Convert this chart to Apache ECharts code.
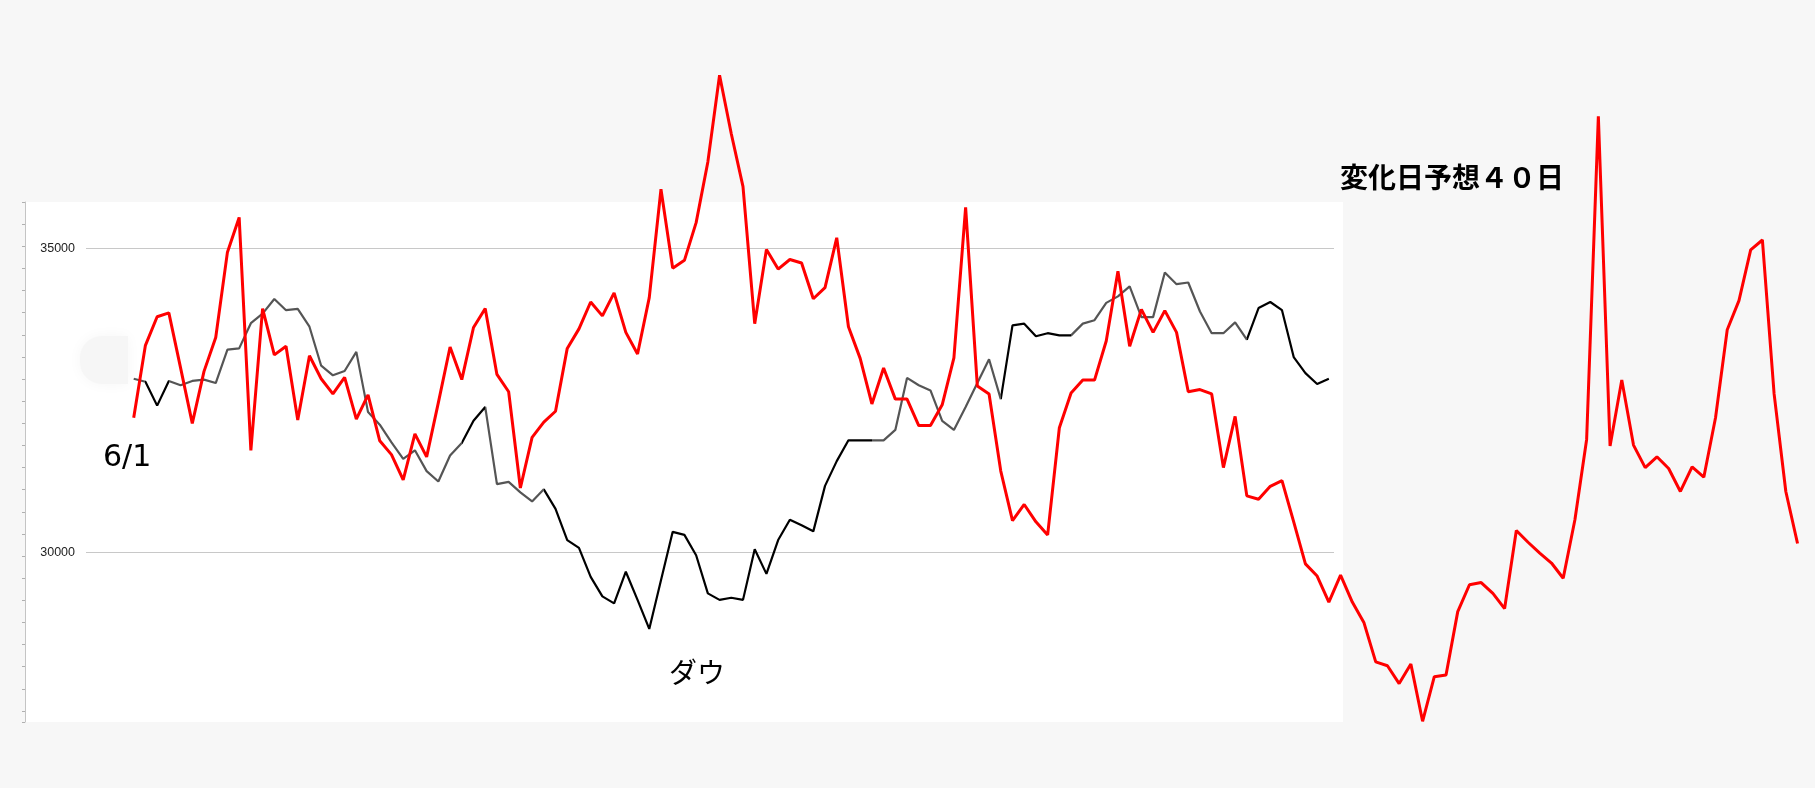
<!DOCTYPE html>
<html><head><meta charset="utf-8">
<style>html,body{margin:0;padding:0;background:#f7f7f7;}#c{width:1815px;height:788px;}</style>
<script src="https://cdn.jsdelivr.net/npm/echarts@6/dist/echarts.min.js"></script>
</head><body><div id="c"></div>
<script>
// Red forecast line (index = trading day from 6/1)
const redValues = [
32211,33402,33873,33937,33031,32118,32974,33530,34935,35506,
31676,34008,33245,33388,32175,33231,32853,32603,32874,32190,
32589,31833,31605,31191,31947,31569,32461,33374,32839,33695,
34008,32924,32639,31056,31890,32140,32318,33352,33673,34115,
33887,34265,33616,33260,34187,35970,34672,34800,35420,36419,
37845,36883,36012,33759,34978,34657,34814,34757,34169,34351,
35171,33709,33188,32439,33031,32518,32518,32083,32083,32425,
33195,35670,32732,32603,31334,30521,30785,30500,30285,32047,
32618,32831,32831,33473,34622,33388,33994,33616,33973,33616,
32639,32675,32603,31391,32233,30927,30870,31084,31177,30500,
29808,29608,29180,29622,29180,28838,28196,28132,27839,28160,
27219,27953,27982,29023,29465,29501,29323,29073,30357,30164,
29986,29822,29572,30535,31855,37168,31748,32831,31762,31391,
31569,31377,30999,31405,31234,32211,33659,34137,34971,35135,
32603,30999,30143];
// Dow line
const dowValues = [
32853,32803,32411,32817,32746,32817,32839,32782,33331,33352,
33766,33923,34165,33980,34001,33709,33067,32910,32981,33295,
32304,32097,31805,31534,31676,31334,31163,31591,31797,32161,
32389,31120,31156,30985,30835,31034,30713,30200,30071,29594,
29273,29159,29679,29216,28738,29537,30335,30285,29950,29323,
29216,29251,29216,30050,29644,30200,30535,30442,30343,31091,
31498,31840,31840,31840,31840,32011,32867,32746,32660,32161,
32011,32389,32782,33174,32518,33730,33759,33552,33602,33566,
33566,33759,33816,34101,34208,34372,33866,33866,34600,34408,
34436,33959,33602,33602,33780,33495,34015,34115,33980,33210,
32946,32767,32853];
const yTickLabels = [30000, 35000];
// index ranges of the Dow line drawn in black (rest dark gray)
const blackRanges = [[1,3],[28,30],[35,63],[74,80],[95,102]];

const GRAY = '#555555', BLACK = '#000000';
const pieces = [{lt: blackRanges[0][0], color: GRAY}];
blackRanges.forEach(([a,b], k) => {
  pieces.push({gte: a, lt: b, color: BLACK});
  const next = blackRanges[k+1];
  pieces.push(next ? {gte: b, lt: next[0], color: GRAY} : {gte: b, color: GRAY});
});

const chart = echarts.init(document.getElementById('c'), null, {renderer: 'canvas'});
chart.setOption({
  animation: false,
  backgroundColor: '#f7f7f7',
  grid: [
    // white panel with its left axis
    {left: 25, top: 202, width: 1318, height: 520, show: true, backgroundColor: '#ffffff', borderWidth: 0, z: -5},
    // gridline area 30000..35000
    {left: 86, right: 481, top: 248.6, bottom: 235.8, show: false},
    // data area spanning the whole canvas
    {left: 0, right: 0, top: 0, bottom: 0, show: false}
  ],
  xAxis: [
    {gridIndex: 0, type: 'value', min: 0, max: 1, show: false},
    {gridIndex: 1, type: 'value', min: 0, max: 1, show: false},
    {gridIndex: 2, type: 'value', min: -11.411, max: 143.49, show: false}
  ],
  yAxis: [
    {gridIndex: 0, type: 'value', inverse: true, min: 0, max: 23.5, interval: 1, z: -4,
     axisLine: {show: true, lineStyle: {color: '#c4c4c4', width: 1}},
     axisTick: {show: true, length: 3, lineStyle: {color: '#b0b0b0'}},
     axisLabel: {show: false}, splitLine: {show: false}},
    {gridIndex: 1, type: 'value', min: 30000, max: 35000, interval: 5000,
     axisLine: {show: false}, axisTick: {show: false},
     axisLabel: {margin: 11, fontSize: 12.5, color: '#222', fontFamily: 'Liberation Sans',
       formatter: v => yTickLabels.includes(v) ? String(v) : ''},
     splitLine: {show: true, lineStyle: {color: '#c8c8c8', width: 1}}},
    {gridIndex: 2, type: 'value', min: 26122, max: 39082, show: false}
  ],
  visualMap: [{type: 'piecewise', show: false, seriesIndex: 0, dimension: 0, pieces: pieces}],
  series: [
    {type: 'line', xAxisIndex: 2, yAxisIndex: 2, data: dowValues.map((v,i)=>[i,v]),
     symbol: 'none', lineStyle: {width: 2.2}, z: 3},
    {type: 'line', xAxisIndex: 2, yAxisIndex: 2, data: redValues.map((v,i)=>[i,v]),
     symbol: 'none', lineStyle: {width: 3, color: '#ff0000'}, itemStyle: {color: '#ff0000'}, z: 4}
  ],
  graphic: [
    {type: 'rect', z: -1, silent: true, shape: {x: 80, y: 336, width: 48, height: 48, r: [22, 0, 0, 22]},
     style: {fill: '#f6f6f6', shadowBlur: 14, shadowColor: '#f6f6f6'}},
    {type: 'text', left: 103, top: 443, style: {text: '6/1', font: '30px "DejaVu Sans"', fill: '#000'}},
    {type: 'text', left: 669, top: 658, style: {text: 'ダウ', font: '28px "Noto Sans CJK JP"', fill: '#000'}},
    {type: 'text', left: 1340, top: 163, style: {text: '変化日予想４０日', font: 'bold 28px "Noto Sans CJK JP"', fill: '#000'}}
  ]
});
</script></body></html>
